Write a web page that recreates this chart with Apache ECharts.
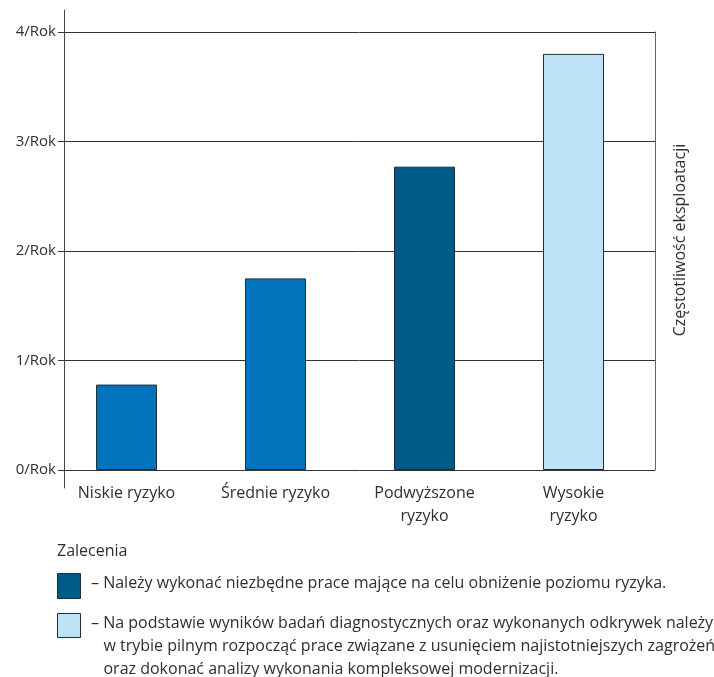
<!DOCTYPE html>
<html>
<head>
<meta charset="utf-8">
<script src="https://cdn.jsdelivr.net/npm/echarts@6/dist/echarts.min.js"></script>
<style>
  html, body { margin: 0; padding: 0; background: #fff; }
  #chart { width: 714px; height: 677px; }
</style>
</head>
<body>
<div id="chart"></div>
<script>
// Risk categories and how often each one is operated per year
const categories = ['Niskie ryzyko', 'Średnie ryzyko', 'Podwyższone\nryzyko', 'Wysokie\nryzyko'];
const frequency = [0.78, 1.75, 2.77, 3.8];
const tickLabels = ['0/Rok', '1/Rok', '2/Rok', '3/Rok', '4/Rok'];
const axisTitle = 'Częstotliwość eksploatacji';
const legendTitle = 'Zalecenia';
const legendTexts = [
  '– Należy wykonać niezbędne prace mające na celu obniżenie poziomu ryzyka.',
  '– Na podstawie wyników badań diagnostycznych oraz wykonanych odkrywek należy\n   w trybie pilnym rozpocząć prace związane z usunięciem najistotniejszych zagrożeń\n   oraz dokonać analizy wykonania kompleksowej modernizacji.'
];

// Fill colours per bar
const barColors = ['#0073bd', '#0073bd', '#005a87', '#bfe3f6'];
const legendColors = ['#005a87', '#bfe3f6'];

const FONT = 'Open Sans';
const TEXT = '#2f2f2f';
const LEGEND_FONT = '16px "' + FONT + '"';

const chart = echarts.init(document.getElementById('chart'), null, { renderer: 'canvas' });

const option = {
  backgroundColor: '#ffffff',
  animation: false,
  textStyle: { fontFamily: FONT },
  grid: [
    { left: 64, right: 59, top: 32, bottom: 207 },   // frame with grid lines
    { left: 52, right: 66, top: 32, bottom: 207 },   // bars and category labels
    { left: 64, right: 59, top: 10, bottom: 189 }    // long vertical axis line
  ],
  xAxis: [
    { gridIndex: 0, type: 'category', data: categories, show: false },
    {
      gridIndex: 1, type: 'category', data: categories,
      axisLine: { show: false }, axisTick: { show: false },
      axisLabel: { color: TEXT, fontSize: 16, lineHeight: 23, margin: 12, fontFamily: FONT, interval: 0 }
    },
    { gridIndex: 2, type: 'category', data: categories, show: false }
  ],
  yAxis: [
    {
      gridIndex: 0, type: 'value', min: 0, max: 4, interval: 1,
      axisLine: { show: false },
      axisTick: { show: true, length: 6, lineStyle: { color: '#333', width: 1 } },
      axisLabel: {
        color: TEXT, fontSize: 15, margin: 8, fontFamily: FONT,
        formatter: v => tickLabels[v]
      },
      splitLine: { show: true, lineStyle: { color: '#333', width: 1 } }
    },
    { gridIndex: 1, type: 'value', min: 0, max: 4, interval: 1, show: false },
    {
      gridIndex: 2, type: 'value', min: 0, max: 4, interval: 1, position: 'left',
      axisLine: { show: true, lineStyle: { color: '#444', width: 1 } },
      axisTick: { show: false }, axisLabel: { show: false }, splitLine: { show: false }
    },
    {
      gridIndex: 0, type: 'value', min: 0, max: 4, interval: 1, position: 'right',
      axisLine: { show: true, lineStyle: { color: '#666', width: 1 } },
      axisTick: { show: false }, axisLabel: { show: false }, splitLine: { show: false },
      name: axisTitle, nameLocation: 'middle', nameRotate: 90, nameGap: 17,
      nameTextStyle: { color: TEXT, fontSize: 16, fontFamily: FONT, padding: [0, 0, 0, 22] }
    }
  ],
  series: [
    {
      type: 'bar',
      xAxisIndex: 1,
      yAxisIndex: 1,
      barWidth: 61,
      data: frequency.map((v, i) => ({
        value: v,
        itemStyle: { color: barColors[i], borderColor: '#1d2d3d', borderWidth: 1 }
      }))
    }
  ],
  graphic: [
    {
      type: 'text', left: 57, top: 543,
      style: { text: legendTitle, fill: TEXT, font: LEGEND_FONT }
    },
    {
      type: 'rect', left: 57, top: 573,
      shape: { width: 23, height: 25 },
      style: { fill: legendColors[0], stroke: '#1d2d3d', lineWidth: 1 }
    },
    {
      type: 'text', left: 91, top: 572,
      style: { text: legendTexts[0], fill: TEXT, font: LEGEND_FONT, lineHeight: 23 }
    },
    {
      type: 'rect', left: 57, top: 613,
      shape: { width: 23, height: 24 },
      style: { fill: legendColors[1], stroke: '#1d2d3d', lineWidth: 1 }
    },
    {
      type: 'text', left: 91, top: 612,
      style: { text: legendTexts[1], fill: TEXT, font: LEGEND_FONT, lineHeight: 23 }
    }
  ]
};

chart.setOption(option);
</script>
</body>
</html>
